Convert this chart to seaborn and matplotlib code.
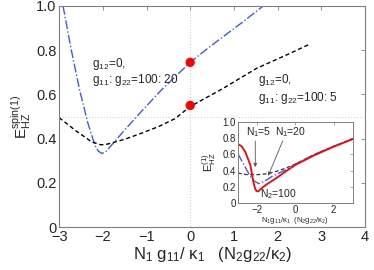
import matplotlib
matplotlib.use("Agg")
from matplotlib import pyplot as plt
import seaborn as sns

# main panel curves
main_black_x = [-3.0, -2.64, -2.26, -2.07, -1.97, -1.88, -1.5, -1.12, -0.73, -0.35, 0.0, 0.76, 1.52, 2.29, 2.74]
main_black_y = [0.495, 0.439, 0.386, 0.373, 0.372, 0.376, 0.397, 0.424, 0.454, 0.49, 0.545, 0.628, 0.718, 0.786, 0.828]
main_blue_x = [-2.91, -2.72, -2.53, -2.34, -2.18, -2.1, -2.02, -1.95, -1.88, -1.5, -1.12, -0.66, 0.0, 0.38, 0.76, 1.22, 1.67]
main_blue_y = [1.0, 0.80, 0.62, 0.469, 0.37, 0.343, 0.333, 0.338, 0.352, 0.439, 0.522, 0.62, 0.745, 0.805, 0.862, 0.93, 1.0]
dots_x = [0.0, 0.0]
dots_y = [0.745, 0.55]

main_xticks = [-3, -2, -1, 0, 1, 2, 3, 4]
main_xlabels = ["\u22123", "\u22122", "\u22121", "0", "1", "2", "3", "4"]
main_yticks = [0, 0.2, 0.4, 0.6, 0.8, 1.0]
main_ylabels = ["0", "0.2", "0.4", "0.6", "0.8", "1.0"]

# inset curves
ins_red_x = [-3.0, -2.8, -2.61, -2.35, -2.18, -2.1, -2.03, -1.97, -1.9, -1.75, -1.5, -1.04, -0.5, 0.0, 1.0, 2.0, 3.0]
ins_red_y = [0.73, 0.70, 0.63, 0.47, 0.25, 0.18, 0.15, 0.143, 0.15, 0.185, 0.23, 0.30, 0.39, 0.47, 0.59, 0.695, 0.79]
ins_blue_x = [-3.0, -2.7, -2.4, -2.15, -1.9, -1.6, -1.2, -0.5, 0.0, 1.0, 2.0, 3.0]
ins_blue_y = [0.61, 0.48, 0.35, 0.27, 0.24, 0.27, 0.33, 0.41, 0.48, 0.60, 0.70, 0.79]
ins_black_x = [-3.0, -2.5, -2.0, -1.5, -1.0, -0.5, 0.0, 1.0, 2.0, 3.0]
ins_black_y = [0.37, 0.35, 0.35, 0.36, 0.39, 0.43, 0.48, 0.60, 0.70, 0.79]

ins_xticks = [-2, 0, 2]
ins_xlabels = ["\u22122", "0", "2"]
ins_yticks = [0, 0.2, 0.4, 0.6, 0.8, 1.0]
ins_ylabels = ["0", "0.2", "0.4", "0.6", "0.8", "1.0"]

sns.set_style("white")
plt.rcParams['font.family'] = ['Liberation Sans', 'DejaVu Sans']
plt.rcParams['mathtext.default'] = 'regular'

BLUE = '#3a5cf0'
GRAY = '#7f7f7f'

fig = plt.figure(figsize=(3.74, 2.70), dpi=100)
ax = fig.add_axes([0.158, 0.159, 0.818, 0.819])

# reference lines
ax.axvline(0, color='#d0d0d0', linestyle=':', linewidth=0.8, zorder=0)
ax.axhline(0.5, color='#d0d0d0', linestyle=':', linewidth=0.8, zorder=0)

sns.lineplot(x=main_blue_x, y=main_blue_y, ax=ax, color=BLUE, linestyle='-.',
             linewidth=1.0, sort=False, estimator=None)
sns.lineplot(x=main_black_x, y=main_black_y, ax=ax, color='black', linestyle=(0, (3, 2)),
             linewidth=1.0, sort=False, estimator=None)
sns.scatterplot(x=dots_x, y=dots_y, ax=ax, color='red', s=45, edgecolor='none', zorder=5)

ax.set_xlim(-3, 4)
ax.set_ylim(0, 1)
ax.set_xticks(main_xticks)
ax.set_xticklabels(main_xlabels)
ax.set_yticks(main_yticks)
ax.set_yticklabels(main_ylabels)
ax.tick_params(direction='in', length=3, width=0.6, color=GRAY, labelsize=10.5,
               top=True, right=True, pad=2)
for s in ax.spines.values():
    s.set_color(GRAY)
    s.set_linewidth(0.8)

ax.set_xlabel("N$_1$ g$_{11}$/ \u03ba$_1$   (N$_2$g$_{22}$/\u03ba$_2$)", fontsize=12, labelpad=1)
ax.set_ylabel("E$^{spin(1)}_{HZ}$", fontsize=11, labelpad=2)

ax.text(-2.25, 0.725, "g$_{12}$=0,", fontsize=8.5)
ax.text(-2.25, 0.65, "g$_{11}$: g$_{22}$=100: 20", fontsize=8.5)
ax.text(1.55, 0.65, "g$_{12}$=0,", fontsize=8.5)
ax.text(1.55, 0.572, "g$_{11}$: g$_{22}$=100: 5", fontsize=8.5)

# inset
ins = fig.add_axes([0.636, 0.248, 0.307, 0.30])
ins.set_facecolor('white')
sns.lineplot(x=ins_black_x, y=ins_black_y, ax=ins, color='#333333', linestyle=(0, (3, 2)),
             linewidth=0.9, sort=False, estimator=None)
sns.lineplot(x=ins_blue_x, y=ins_blue_y, ax=ins, color=BLUE, linestyle='-.',
             linewidth=1.0, sort=False, estimator=None)
sns.lineplot(x=ins_red_x, y=ins_red_y, ax=ins, color='red', linestyle='-',
             linewidth=1.3, sort=False, estimator=None)
ins.set_xlim(-3, 3)
ins.set_ylim(0, 1)
ins.set_xticks(ins_xticks)
ins.set_xticklabels(ins_xlabels)
ins.set_yticks(ins_yticks)
ins.set_yticklabels(ins_ylabels)
ins.tick_params(direction='in', length=2, width=0.5, color=GRAY, labelsize=7,
                top=True, right=True, pad=1.5)
for s in ins.spines.values():
    s.set_color(GRAY)
    s.set_linewidth(0.7)
ins.set_xlabel("N$_1$g$_{11}$/\u03ba$_1$  (N$_2$g$_{22}$/\u03ba$_2$)", fontsize=5.5, labelpad=0)
ins.set_ylabel("E$^{(1)}_{HZ}$", fontsize=8, labelpad=3)

arrow = dict(arrowstyle='-|>', color='#555555', lw=0.6, mutation_scale=5)
ins.text(-2.55, 0.84, "N$_1$=5", fontsize=7.5)
ins.annotate("", xy=(-2.09, 0.41), xytext=(-2.09, 0.80), arrowprops=arrow)
ins.text(-1.05, 0.84, "N$_1$=20", fontsize=7.5)
ins.annotate("", xy=(-1.47, 0.305), xytext=(-0.6, 0.80), arrowprops=arrow)
ins.text(-1.85, 0.07, "N$_2$=100", fontsize=7.5)

fig.savefig("out.png", dpi=100)
